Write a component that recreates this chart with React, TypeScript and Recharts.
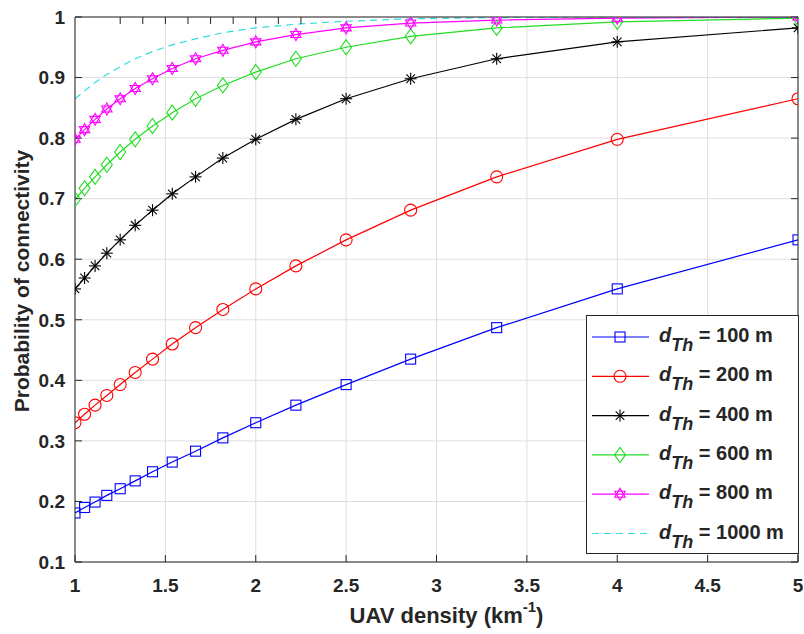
import React from "react";
import { CartesianGrid, Label, Legend, Line, LineChart, XAxis, YAxis } from "recharts";

// UAV density (km^-1) at which each curve was sampled
const density = [1, 1.053, 1.111, 1.176, 1.25, 1.333, 1.429, 1.538, 1.667, 1.818, 2, 2.222, 2.5, 2.857, 3.333, 4, 5];

// probability of connectivity, one list per threshold distance
const p100 = [0.181, 0.19, 0.199, 0.21, 0.221, 0.234, 0.249, 0.265, 0.283, 0.305, 0.33, 0.359, 0.393, 0.435, 0.487, 0.551, 0.632];
const p200 = [0.33, 0.344, 0.359, 0.375, 0.393, 0.413, 0.435, 0.46, 0.487, 0.517, 0.551, 0.589, 0.632, 0.681, 0.736, 0.798, 0.865];
const p400 = [0.551, 0.569, 0.589, 0.61, 0.632, 0.656, 0.681, 0.708, 0.736, 0.767, 0.798, 0.831, 0.865, 0.898, 0.931, 0.959, 0.982];
const p600 = [0.699, 0.717, 0.736, 0.756, 0.777, 0.798, 0.82, 0.842, 0.865, 0.887, 0.909, 0.931, 0.95, 0.968, 0.982, 0.992, 0.998];
const p800 = [0.798, 0.814, 0.831, 0.848, 0.865, 0.882, 0.898, 0.915, 0.931, 0.945, 0.959, 0.971, 0.982, 0.99, 0.995, 0.998, 1.0];
const p1000 = [0.865, 0.878, 0.892, 0.905, 0.918, 0.931, 0.943, 0.954, 0.964, 0.974, 0.982, 0.988, 0.993, 0.997, 0.999, 1.0, 1.0];

const xTicks = [1, 1.5, 2, 2.5, 3, 3.5, 4, 4.5, 5];
const yTicks = [0.1, 0.2, 0.3, 0.4, 0.5, 0.6, 0.7, 0.8, 0.9, 1];

const thresholds = ["100", "200", "400", "600", "800", "1000"];
const seriesKeys = ["p100", "p200", "p400", "p600", "p800", "p1000"];
const seriesColors = ["#0000ff", "#ff0000", "#000000", "#22dd22", "#ff00ff", "#33dddd"];
const seriesMarkers = ["square", "circle", "asterisk", "diamond", "hexagram", "none"];

const data = density.map((x, i) => ({
  x,
  p100: p100[i],
  p200: p200[i],
  p400: p400[i],
  p600: p600[i],
  p800: p800[i],
  p1000: p1000[i],
}));

const FONT = '"Liberation Sans", Arial, Helvetica, sans-serif';
const INK = "#262626";

const Marker = ({ cx, cy, kind, color }: { cx: number; cy: number; kind: string; color: string }) => {
  const sw = 1.1;
  if (kind === "square") {
    return <rect x={cx - 5} y={cy - 5} width={10} height={10} fill="none" stroke={color} strokeWidth={sw} />;
  }
  if (kind === "circle") {
    return <circle cx={cx} cy={cy} r={6} fill="none" stroke={color} strokeWidth={sw} />;
  }
  if (kind === "asterisk") {
    const r = 6;
    const d = 4.3;
    return (
      <g stroke={color} strokeWidth={sw}>
        <line x1={cx - r} y1={cy} x2={cx + r} y2={cy} />
        <line x1={cx} y1={cy - r} x2={cx} y2={cy + r} />
        <line x1={cx - d} y1={cy - d} x2={cx + d} y2={cy + d} />
        <line x1={cx - d} y1={cy + d} x2={cx + d} y2={cy - d} />
      </g>
    );
  }
  if (kind === "diamond") {
    const pts = `${cx},${cy - 7.5} ${cx + 5.5},${cy} ${cx},${cy + 7.5} ${cx - 5.5},${cy}`;
    return <polygon points={pts} fill="none" stroke={color} strokeWidth={sw} />;
  }
  if (kind === "hexagram") {
    const r = 6;
    const tri = (start: number) =>
      [0, 120, 240]
        .map((a) => {
          const t = ((start + a) * Math.PI) / 180;
          return `${cx + r * Math.cos(t)},${cy + r * Math.sin(t)}`;
        })
        .join(" ");
    return (
      <g fill="none" stroke={color} strokeWidth={sw}>
        <polygon points={tri(-90)} />
        <polygon points={tri(90)} />
      </g>
    );
  }
  return null;
};

const LegendBox = () => (
  <svg width={213} height={239} style={{ display: "block" }}>
    <rect x={0.5} y={0.5} width={212} height={238} fill="#ffffff" stroke={INK} strokeWidth={1} />
    {thresholds.map((t, i) => {
      const cy = 22 + i * 39.3;
      return (
        <g key={t}>
          <line
            x1={6}
            x2={63}
            y1={cy}
            y2={cy}
            stroke={seriesColors[i]}
            strokeWidth={1.2}
            strokeDasharray={seriesMarkers[i] === "none" ? "7 5" : undefined}
          />
          <Marker cx={34} cy={cy} kind={seriesMarkers[i]} color={seriesColors[i]} />
          <text x={73} y={cy + 5} fontFamily={FONT} fontWeight="bold" fontSize={20} fill={INK}>
            <tspan fontStyle="italic">d</tspan>
            <tspan fontStyle="italic" fontSize={18} dy={9}>
              Th
            </tspan>
            <tspan dy={-9}>{` = ${t} m`}</tspan>
          </text>
        </g>
      );
    })}
  </svg>
);

const XTitle = (props: any) => {
  const vb = props.viewBox || { x: 75, width: 723, y: 562 };
  const cx = vb.x + vb.width / 2 + 10;
  return (
    <text x={cx} y={623} textAnchor="middle" fontFamily={FONT} fontWeight="bold" fontSize={22} fill={INK}>
      UAV density (km
      <tspan fontSize={15} dy={-11}>
        -1
      </tspan>
      <tspan dy={11}>)</tspan>
    </text>
  );
};

const YTitle = () => (
  <text
    x={0}
    y={0}
    transform="translate(29 281) rotate(-90)"
    textAnchor="middle"
    fontFamily={FONT}
    fontWeight="bold"
    fontSize={21}
    fill={INK}
  >
    Probability of connectivity
  </text>
);

const noTick = () => <g />;

export default function App() {
  return (
    <div style={{ position: "absolute", left: 0, top: 0, width: 804, height: 634, background: "#ffffff" }}>
      <LineChart width={804} height={634} data={data} margin={{ top: 16, right: 5, bottom: 0, left: 0 }}>
        <CartesianGrid stroke="#dedede" strokeWidth={1} />
        <XAxis
          dataKey="x"
          type="number"
          domain={[1, 5]}
          ticks={xTicks}
          interval={0}
          height={72}
          stroke={INK}
          tickSize={-7}
          tickMargin={24}
          tick={{ fill: INK, fontSize: 19, fontWeight: "bold", fontFamily: FONT }}
          allowDataOverflow
        >
          <Label content={<XTitle />} position="bottom" />
        </XAxis>
        <XAxis
          xAxisId="top"
          orientation="top"
          type="number"
          domain={[1, 5]}
          ticks={xTicks}
          interval={0}
          height={1}
          stroke={INK}
          tickSize={-7}
          tick={noTick}
          allowDataOverflow
        />
        <YAxis
          type="number"
          domain={[0.1, 1]}
          ticks={yTicks}
          interval={0}
          width={75}
          stroke={INK}
          tickSize={-7}
          tickMargin={17}
          tick={{ fill: INK, fontSize: 19, fontWeight: "bold", fontFamily: FONT }}
          allowDataOverflow
        >
          <Label content={<YTitle />} position="left" />
        </YAxis>
        <YAxis
          yAxisId="right"
          orientation="right"
          type="number"
          domain={[0.1, 1]}
          ticks={yTicks}
          interval={0}
          width={1}
          stroke={INK}
          tickSize={-7}
          tick={noTick}
          allowDataOverflow
        />
        {seriesKeys.map((k, i) => (
          <Line
            key={k}
            dataKey={k}
            type="linear"
            stroke={seriesColors[i]}
            strokeWidth={1.2}
            strokeDasharray={seriesMarkers[i] === "none" ? "7 5" : undefined}
            isAnimationActive={false}
            dot={
              seriesMarkers[i] === "none"
                ? false
                : (p: any) => (
                    <Marker key={`${k}-${p.index}`} cx={p.cx} cy={p.cy} kind={seriesMarkers[i]} color={seriesColors[i]} />
                  )
            }
            activeDot={false}
          />
        ))}
        <Legend
          layout="vertical"
          align="center"
          verticalAlign="middle"
          content={() => <LegendBox />}
          wrapperStyle={{ left: 586, top: 315, width: 213, height: 239 }}
        />
      </LineChart>
    </div>
  );
}
